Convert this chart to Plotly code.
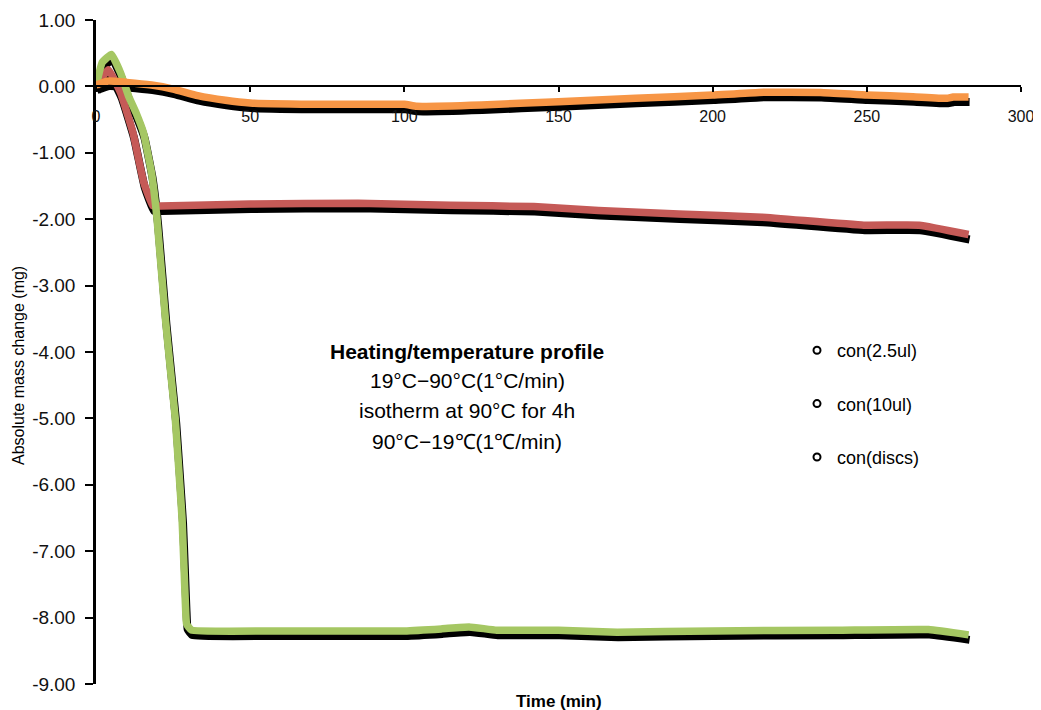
import plotly.graph_objects as go

# ---------------- data ----------------
t_25ul = [0, 4, 10, 18, 25, 33, 42, 50, 75, 100, 104, 125, 150, 175, 200, 215, 235, 250, 265, 276, 278, 283]
v_25ul = [0.02, 0.08, 0.06, 0.02, -0.04, -0.14, -0.21, -0.25, -0.27, -0.27, -0.30, -0.28, -0.23, -0.18,
          -0.13, -0.09, -0.09, -0.13, -0.155, -0.18, -0.16, -0.16]

t_10ul = [0, 4, 8, 12, 15.5, 18.5, 21, 50, 85, 115, 142, 163, 189, 216, 249, 267, 283]
v_10ul = [0.0, 0.25, -0.10, -0.70, -1.45, -1.80, -1.80, -1.77, -1.76, -1.79, -1.81, -1.87, -1.92,
          -1.97, -2.09, -2.09, -2.23]

t_discs = [0, 2, 5, 8, 10.6, 13, 15.4, 18, 19.8, 22.5, 24.2, 25.7, 26.9, 27.9, 28.5, 29.0, 29.4, 31, 60,
           100, 112, 121, 130, 150, 169, 200, 240, 270, 283]
v_discs = [0.0, 0.36, 0.48, 0.20, -0.15, -0.40, -0.70, -1.30, -2.00, -3.50, -4.30, -5.00, -5.80, -6.50,
           -7.20, -7.80, -8.10, -8.19, -8.20, -8.20, -8.17, -8.14, -8.19, -8.19, -8.22, -8.20, -8.19,
           -8.18, -8.26]

series_names = ["con(2.5ul)", "con(10ul)", "con(discs)"]
y_ticks = [1, 0, -1, -2, -3, -4, -5, -6, -7, -8, -9]
x_ticks = [0, 50, 100, 150, 200, 250, 300]
profile_lines = ["19°C−90°C(1°C/min)", "isotherm at 90°C for 4h", "90°C−19℃(1℃/min)"]

# ---------------- styling ----------------
# The page body has an 8px margin, so the figure is 8px smaller than the window
OFF = 8
W, H = 1041 - OFF, 710 - OFF
# plot area in window pixels
PX0, PX1, PY0, PY1 = 96, 1021, 20, 684
ML, MT = PX0 - OFF, PY0 - OFF
MR, MB = W - (PX1 - OFF), H - (PY1 - OFF)
XR = [0, 300]
YR = [-9, 1]
pw = PX1 - PX0
ph = PY1 - PY0
px_x = pw / (XR[1] - XR[0])
px_y = ph / (YR[1] - YR[0])
SH_DX, SH_DY = 1.0, 5.0  # shadow offset in pixels (right, down)


def fx(px):
    return (px - PX0) / pw


def fy(py):
    return (PY1 - py) / ph


colors = {"con(2.5ul)": "#F79646", "con(10ul)": "#C55A57", "con(discs)": "#A5C763"}
data = {"con(2.5ul)": (t_25ul, v_25ul), "con(10ul)": (t_10ul, v_10ul), "con(discs)": (t_discs, v_discs)}
draw_order = ["con(10ul)", "con(discs)", "con(2.5ul)"]

fig = go.Figure()

# shadows on the (hidden) base axes, whose ranges are shifted by a few pixels
for name in draw_order:
    t, v = data[name]
    fig.add_trace(go.Scatter(x=t, y=v, mode="lines", xaxis="x", yaxis="y", showlegend=False,
                             hoverinfo="skip",
                             line=dict(color="black", width=8, shape="spline", smoothing=0.35)))
# coloured lines on the visible axes
for name in draw_order:
    t, v = data[name]
    fig.add_trace(go.Scatter(x=t, y=v, mode="lines", xaxis="x2", yaxis="y2", showlegend=False,
                             name=name,
                             line=dict(color=colors[name], width=7.5, shape="spline", smoothing=0.35)))
# legend entries (marker only)
for i, name in enumerate(series_names):
    fig.add_trace(go.Scatter(x=[None], y=[None], mode="markers", xaxis="x2", yaxis="y2", name=name,
                             legendgroup=name,
                             marker=dict(symbol="circle", size=7, color="white",
                                         line=dict(color="black", width=2))))

font_family = "Liberation Sans, Arial, sans-serif"

fig.update_layout(
    template="none",
    width=W, height=H,
    margin=dict(l=ML, r=MR, t=MT, b=MB, autoexpand=False),
    paper_bgcolor="white", plot_bgcolor="white",
    font=dict(family=font_family, color="black"),
    xaxis=dict(range=[XR[0] - SH_DX / px_x, XR[1] - SH_DX / px_x], visible=False, automargin=False),
    yaxis=dict(range=[YR[0] + SH_DY / px_y, YR[1] + SH_DY / px_y], visible=False, automargin=False),
    xaxis2=dict(range=XR, overlaying="x", anchor="free", position=(0 - YR[0]) / (YR[1] - YR[0]),
                tickvals=x_ticks, ticktext=[str(v) for v in x_ticks], automargin=False,
                showline=True, linecolor="black", linewidth=2,
                ticks="outside", ticklen=5, tickwidth=2, tickcolor="black",
                ticklabelstandoff=10,
                tickfont=dict(size=16, color="#111111"),
                showgrid=False, zeroline=False),
    yaxis2=dict(range=YR, overlaying="y", side="left", anchor="x2", automargin=False,
                tickvals=y_ticks, ticktext=[f"{v:.2f}" for v in y_ticks],
                showline=True, linecolor="black", linewidth=2.5,
                ticks="outside", ticklen=8, tickwidth=2, tickcolor="black",
                ticklabelstandoff=6,
                tickfont=dict(size=19, color="#111111"),
                showgrid=False, zeroline=False),
    legend=dict(x=fx(797), xanchor="left", y=fy(332), yanchor="top",
                font=dict(size=18, family=font_family), bgcolor="rgba(0,0,0,0)",
                traceorder="grouped", tracegroupgap=27, itemwidth=30),
    showlegend=True,
)

annotations = [
    dict(text="Absolute mass change (mg)", textangle=-90, xref="paper", yref="paper",
         x=fx(18), y=fy(366), showarrow=False, font=dict(size=16),
         xanchor="center", yanchor="middle"),
    dict(text="<b>Time (min)</b>", xref="paper", yref="paper",
         x=fx(559), y=fy(701), showarrow=False, font=dict(size=17),
         xanchor="center", yanchor="middle"),
    dict(text="<b>Heating/temperature profile</b>", xref="paper", yref="paper",
         x=fx(467), y=fy(351), showarrow=False, font=dict(size=21),
         xanchor="center", yanchor="middle"),
]
for line, ypix in zip(profile_lines, [380, 410, 441]):
    annotations.append(dict(text=line, xref="paper", yref="paper",
                            x=fx(467), y=fy(ypix), showarrow=False,
                            font=dict(size=21), xanchor="center", yanchor="middle"))
fig.update_layout(annotations=annotations)

fig.write_html("out.html")
